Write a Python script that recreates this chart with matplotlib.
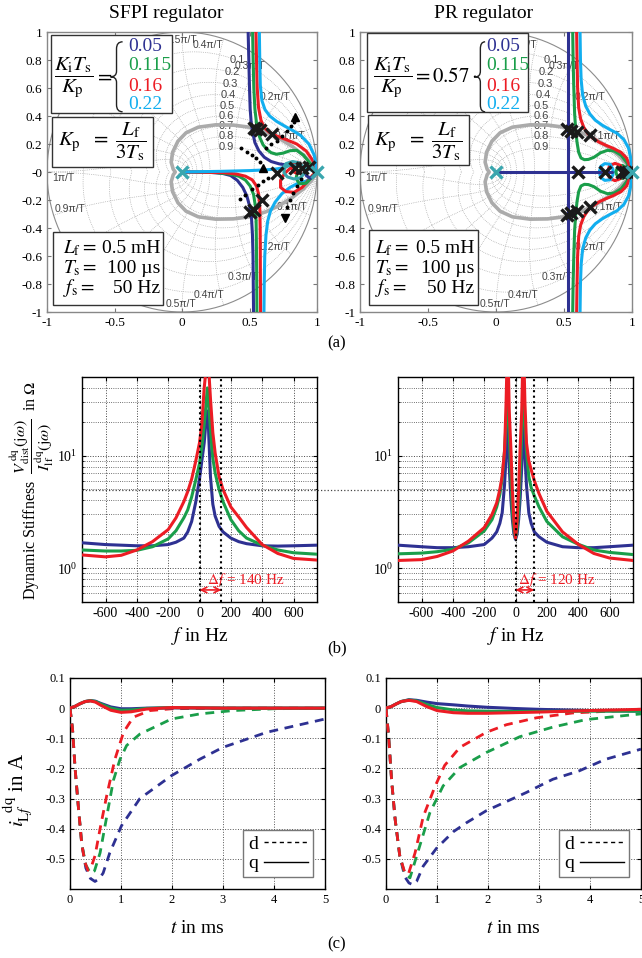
import numpy as np
import matplotlib
matplotlib.use('Agg')
from matplotlib import pyplot as plt
from matplotlib.lines import Line2D
from matplotlib.patches import Rectangle, PathPatch
from matplotlib.path import Path
from matplotlib.ticker import LogLocator, NullFormatter, LogFormatterMathtext, FormatStrFormatter

plt.rcParams['font.family'] = ['Liberation Serif', 'DejaVu Serif']
plt.rcParams['mathtext.fontset'] = 'stix'
plt.rcParams['axes.unicode_minus'] = False
plt.rcParams['xtick.direction'] = 'in'
plt.rcParams['ytick.direction'] = 'in'

NAVY = '#2E3192'
GREEN = '#1A9E4A'
RED = '#EC1C24'
CYAN = '#12AEEF'
GRAY = '#ABABAB'
TEAL = '#3AA6AE'
SANS = ['Liberation Sans', 'DejaVu Sans']

# ---------------- root locus data (z-plane) ----------------
gray_loop_upper = [(1.0, 0.0), (0.96, 0.06), (0.9, 0.12), (0.82, 0.18), (0.72, 0.24), (0.62, 0.285),
                   (0.5, 0.32), (0.38, 0.335), (0.25, 0.337), (0.12, 0.32), (0.03, 0.28), (-0.03, 0.22),
                   (-0.07, 0.14), (-0.08, 0.07), (-0.065, 0.02), (-0.05, 0.0)]

# SFPI regulator
sfpi_navy_up = [(0.49, 1.0), (0.495, 0.8), (0.5, 0.6), (0.505, 0.45), (0.512, 0.36), (0.522, 0.29),
                (0.54, 0.21), (0.57, 0.15), (0.61, 0.105), (0.66, 0.075), (0.72, 0.058), (0.78, 0.05),
                (0.84, 0.047), (0.9, 0.04), (0.95, 0.025), (1.0, 0.0)]
sfpi_green_up = [(0.523, 1.0), (0.527, 0.8), (0.532, 0.6), (0.54, 0.45), (0.553, 0.34), (0.575, 0.25),
                 (0.6, 0.195), (0.63, 0.16), (0.66, 0.138), (0.7, 0.127), (0.75, 0.135), (0.8, 0.152),
                 (0.85, 0.155), (0.9, 0.12), (0.95, 0.06), (1.0, 0.0)]
sfpi_red_up = [(0.548, 1.0), (0.552, 0.8), (0.557, 0.6), (0.567, 0.46), (0.585, 0.37), (0.61, 0.315),
               (0.645, 0.285), (0.7, 0.258), (0.78, 0.228), (0.85, 0.2), (0.92, 0.15), (0.97, 0.08), (1.0, 0.0)]
sfpi_cyan_up = [(0.573, 1.0), (0.576, 0.8), (0.58, 0.62), (0.592, 0.51), (0.615, 0.445), (0.65, 0.4),
                (0.7, 0.362), (0.76, 0.328), (0.82, 0.297), (0.88, 0.26), (0.94, 0.2), (0.98, 0.12), (1.0, 0.0)]

sfpi_navy_low = [(0.0, 0.0), (0.2, -0.002), (0.3, -0.01), (0.36, -0.025), (0.41, -0.06), (0.45, -0.11),
                 (0.48, -0.17), (0.5, -0.24), (0.515, -0.33), (0.522, -0.45), (0.526, -0.6),
                 (0.528, -0.8), (0.53, -1.0)]
sfpi_green_low = [(0.0, 0.0), (0.25, -0.004), (0.35, -0.014), (0.42, -0.03), (0.47, -0.058),
                  (0.505, -0.1), (0.53, -0.16), (0.543, -0.24), (0.549, -0.35), (0.551, -0.5),
                  (0.553, -0.7), (0.555, -1.0)]
sfpi_red_low = [(0.0, 0.0), (0.3, -0.004), (0.4, -0.014), (0.47, -0.03), (0.52, -0.056), (0.552, -0.1),
                (0.568, -0.16), (0.576, -0.25), (0.579, -0.4), (0.58, -0.6), (0.581, -0.8), (0.582, -1.0)]
sfpi_cyan_real = [(0.0, 0.0), (0.3, 0.005), (0.5, 0.01), (0.62, 0.015), (0.7, 0.022), (0.75, 0.03)]
sfpi_cyan_low = [(1.0, 0.0), (0.97, -0.035), (0.92, -0.065), (0.86, -0.08), (0.8, -0.11), (0.74, -0.155),
                 (0.69, -0.215), (0.655, -0.28), (0.635, -0.35), (0.622, -0.45), (0.613, -0.6),
                 (0.609, -0.8), (0.607, -1.0)]

sfpi_cyan_loop = [(0.75, 0.03), (0.77, 0.06), (0.82, 0.075), (0.87, 0.065), (0.905, 0.03), (0.905, -0.01),
                  (0.88, -0.04), (0.83, -0.05), (0.78, -0.035), (0.755, -0.005), (0.76, 0.03),
                  (0.8, 0.05), (0.88, 0.04), (0.94, 0.02), (1.0, 0.0)]
sfpi_red_loop = [(0.88, 0.055), (0.84, 0.05), (0.8, 0.025), (0.76, -0.01), (0.73, -0.06), (0.73, -0.11),
                 (0.77, -0.14), (0.83, -0.145), (0.89, -0.11), (0.94, -0.055), (0.97, -0.02), (1.0, 0.0)]
sfpi_red_ring = [(0.815, 0.03), (0.83, 0.065), (0.86, 0.07), (0.885, 0.045), (0.88, 0.005),
                 (0.85, -0.01), (0.82, 0.005), (0.815, 0.03)]
sfpi_green_loop = [(0.93, 0.045), (0.89, 0.03), (0.855, 0.0), (0.845, -0.045), (0.87, -0.085),
                   (0.92, -0.08), (0.96, -0.04), (1.0, 0.0)]
sfpi_navy_loop = [(0.96, 0.035), (0.925, 0.015), (0.92, -0.025), (0.95, -0.045), (0.98, -0.025), (1.0, 0.0)]

sfpi_crosses_x = [0.53, 0.545, 0.578, 0.665, 0.70, 0.84, 0.89, 0.94, 0.505, 0.535, 0.59]
sfpi_crosses_y = [0.315, 0.31, 0.30, 0.268, -0.01, 0.026, 0.03, 0.036, -0.285, -0.27, -0.2]

sfpi_dots_a = [(0.62, 0.17), (0.66, 0.2), (0.7, 0.225), (0.74, 0.255), (0.78, 0.29), (0.81, 0.33), (0.83, 0.36)]
sfpi_dots_b = [(0.44, 0.17), (0.48, 0.145), (0.52, 0.12), (0.55, 0.1), (0.575, 0.07)]
sfpi_dots_c = [(0.43, -0.19), (0.47, -0.165), (0.52, -0.12), (0.56, -0.09), (0.6, -0.065), (0.64, -0.045)]
sfpi_dots_d = [(0.88, -0.05), (0.85, -0.1), (0.82, -0.15), (0.8, -0.2), (0.78, -0.25)]
sfpi_arrows_up = [(0.837, 0.39), (0.6, 0.03)]
sfpi_arrows_down = [(0.765, -0.33)]

# PR regulator
pr_navy_v = [(0.53, 1.0), (0.53, -1.0)]
pr_navy_h = [(0.0, 0.0), (0.85, 0.0)]
pr_green_up = [(0.564, 1.0), (0.567, 0.8), (0.572, 0.6), (0.578, 0.42), (0.586, 0.3), (0.596, 0.21),
               (0.608, 0.14), (0.625, 0.1), (0.65, 0.088), (0.68, 0.09), (0.72, 0.105), (0.77, 0.138),
               (0.82, 0.155), (0.87, 0.15), (0.92, 0.12), (0.96, 0.07), (1.0, 0.0)]
pr_red_up = [(0.593, 1.0), (0.596, 0.8), (0.6, 0.6), (0.608, 0.46), (0.622, 0.38), (0.645, 0.32),
             (0.675, 0.275), (0.71, 0.243), (0.76, 0.212), (0.81, 0.19), (0.86, 0.17), (0.92, 0.14),
             (0.96, 0.1), (1.0, 0.0)]
pr_cyan_up = [(0.618, 1.0), (0.621, 0.8), (0.626, 0.66), (0.637, 0.55), (0.66, 0.47), (0.69, 0.415),
              (0.73, 0.37), (0.78, 0.335), (0.83, 0.307), (0.89, 0.277), (0.94, 0.232), (0.975, 0.17),
              (0.99, 0.1), (1.0, 0.0)]
pr_cyan_loop = [(0.76, 0.0), (0.77, 0.04), (0.8, 0.06), (0.84, 0.055), (0.86, 0.02), (0.86, -0.02),
                (0.84, -0.055), (0.8, -0.06), (0.77, -0.04), (0.76, 0.0)]
pr_red_loop = [(0.82, 0.0), (0.835, 0.045), (0.875, 0.062), (0.915, 0.047), (0.935, 0.0), (0.915, -0.047),
               (0.875, -0.062), (0.835, -0.045), (0.82, 0.0)]
pr_green_loop = [(0.88, 0.0), (0.895, 0.035), (0.93, 0.047), (0.96, 0.03), (0.975, 0.0), (0.96, -0.03),
                 (0.93, -0.047), (0.895, -0.035), (0.88, 0.0)]
pr_crosses_x = [0.525, 0.55, 0.593, 0.69, 0.525, 0.55, 0.593, 0.69, 0.605, 0.8, 0.93, 0.95, 0.97, 0.99]
pr_crosses_y = [0.305, 0.295, 0.285, 0.262, -0.305, -0.295, -0.275, -0.252, 0.0, 0.0, 0.0, 0.0, 0.0, 0.0]

open_loop_x = [0.0, 1.0]
open_loop_y = [0.0, 0.0]

ki_values = ['0.05', '0.115', '0.16', '0.22']
ki_colors = [NAVY, GREEN, RED, CYAN]

zeta_labels = ['0.1', '0.2', '0.3', '0.4', '0.5', '0.6', '0.7', '0.8', '0.9']
zeta_label_x = [0.407, 0.37, 0.36, 0.345, 0.335, 0.33, 0.33, 0.33, 0.33]
zeta_label_y = [0.80, 0.714, 0.63, 0.548, 0.47, 0.398, 0.326, 0.255, 0.18]
wn_labels = ['0.3\u03c0/T', '0.4\u03c0/T', '0.5\u03c0/T', '0.2\u03c0/T', '0.1\u03c0/T', '1\u03c0/T',
             '0.9\u03c0/T', '0.5\u03c0/T', '0.4\u03c0/T', '0.3\u03c0/T', '0.2\u03c0/T', '0.1\u03c0/T']
wn_label_x = [0.5, 0.19, 0.0, 0.69, 0.80, -0.88, -0.83, -0.01, 0.2, 0.45, 0.69, 0.815]
wn_label_y = [0.755, 0.905, 0.94, 0.536, 0.26, -0.045, -0.265, -0.94, -0.88, -0.75, -0.536, -0.25]

# ---------------- dynamic stiffness data ----------------
f_sfpi = [-750, -600, -500, -400, -300, -200, -150, -100, -75, -50, -25, 0, 15, 30, 40, 45, 50, 55, 60,
          70, 85, 100, 125, 150, 200, 250, 300, 400, 500, 600, 750]
stiff_sfpi_navy = [1.68, 1.62, 1.6, 1.58, 1.58, 1.62, 1.7, 1.85, 2.1, 2.6, 3.8, 6.2, 9.0, 13, 19, 22, 25,
                   22, 14, 6.5, 3.7, 2.9, 2.35, 2.1, 1.85, 1.72, 1.65, 1.58, 1.57, 1.58, 1.6]
stiff_sfpi_green = [1.45, 1.42, 1.42, 1.44, 1.55, 1.82, 2.15, 2.8, 3.3, 4.3, 6.0, 8.5, 12, 19, 27, 33, 40,
                    35, 27, 17, 9.5, 7.0, 5.0, 3.9, 2.7, 2.15, 1.85, 1.6, 1.45, 1.37, 1.33]
stiff_sfpi_red = [1.31, 1.26, 1.3, 1.45, 1.72, 2.2, 2.8, 3.9, 4.8, 6.2, 8.8, 13, 19, 40, 55, 65, 80,
                  70, 55, 32, 16, 10.5, 6.5, 5.0, 3.5, 2.85, 2.3, 1.62, 1.35, 1.22, 1.18]

f_pr = [-750, -600, -500, -400, -300, -200, -150, -120, -100, -85, -70, -60, -55, -50, -45, -40, -30, -20,
        -10, 0, 10, 20, 30, 40, 45, 50, 55, 60, 70, 85, 100, 120, 150, 200, 300, 400, 500, 600, 750]
stiff_pr_navy = [1.6, 1.55, 1.52, 1.52, 1.55, 1.62, 1.85, 2.1, 2.5, 3.1, 5.5, 10, 16, 25, 15, 8, 4.2, 2.7,
                 2.0, 1.8, 2.0, 2.7, 4.2, 8, 15, 25, 16, 10, 5.5, 3.1, 2.5, 2.1, 1.9, 1.7, 1.55, 1.52,
                 1.52, 1.55, 1.6]
stiff_pr_green = [1.34, 1.36, 1.4, 1.47, 1.68, 2.14, 2.7, 3.5, 4.5, 6.3, 11, 20, 28, 40, 28, 16, 7.0, 3.3,
                  2.2, 1.85, 2.2, 3.3, 7.0, 16, 28, 40, 28, 20, 11, 6.5, 5.2, 4.4, 3.5, 2.6, 1.9, 1.63,
                  1.45, 1.38, 1.32]
stiff_pr_red = [1.17, 1.19, 1.27, 1.42, 1.74, 2.29, 3.0, 3.8, 5.0, 6.6, 11, 30, 60, 90, 55, 25, 12, 5.0,
                2.6, 1.85, 2.6, 5.0, 12, 25, 55, 90, 60, 30, 13, 9, 7.5, 6.0, 4.6, 3.2, 2.1, 1.63, 1.35,
                1.23, 1.17]

bandwidth_sfpi = 140
bandwidth_pr = 120
stiff_ref = 5

# ---------------- transient response data (t in ms, i in A) ----------------
sfpi_red_d_t = [0, 0.05, 0.1, 0.16, 0.23, 0.29, 0.35, 0.41, 0.49, 0.59, 0.72, 0.88, 1.05, 1.24, 1.57, 2.0, 3, 5]
sfpi_red_d = [0, -0.07, -0.2, -0.32, -0.45, -0.51, -0.538, -0.53, -0.49, -0.4, -0.29, -0.17, -0.08, -0.03,
              -0.008, -0.002, 0, 0]
sfpi_green_d_t = [0, 0.05, 0.1, 0.16, 0.23, 0.31, 0.4, 0.48, 0.59, 0.72, 0.85, 0.98, 1.11, 1.37, 1.99, 2.55,
                  3.2, 4, 5]
sfpi_green_d = [0, -0.07, -0.2, -0.32, -0.45, -0.52, -0.548, -0.54, -0.48, -0.36, -0.24, -0.17, -0.124,
                -0.086, -0.036, -0.019, -0.008, -0.002, 0]
sfpi_navy_d_t = [0, 0.05, 0.1, 0.16, 0.23, 0.31, 0.4, 0.49, 0.58, 0.65, 0.78, 1.01, 1.37, 1.99, 2.55, 3.0,
                 3.86, 5]
sfpi_navy_d = [0, -0.07, -0.2, -0.32, -0.45, -0.53, -0.565, -0.575, -0.565, -0.547, -0.48, -0.39, -0.3,
               -0.224, -0.169, -0.13, -0.08, -0.036]
sfpi_q_t = [0, 0.1, 0.2, 0.3, 0.4, 0.5, 0.6, 0.8, 1.0, 1.2, 1.5, 2, 3, 5]
sfpi_navy_q = [0, 0.006, 0.015, 0.022, 0.025, 0.023, 0.016, 0.004, -0.002, -0.002, 0.0, 0.001, 0, 0]
sfpi_green_q = [0, 0.006, 0.015, 0.022, 0.025, 0.022, 0.014, 0.0, -0.007, -0.006, -0.001, 0.002, 0, 0]
sfpi_red_q = [0, 0.006, 0.015, 0.022, 0.024, 0.02, 0.01, -0.007, -0.014, -0.012, -0.003, 0.002, 0, 0]

pr_red_d_t = [0, 0.05, 0.11, 0.18, 0.27, 0.37, 0.44, 0.57, 0.73, 0.96, 1.15, 1.45, 1.97, 2.36, 2.95, 3.66, 5]
pr_red_d = [0, -0.09, -0.24, -0.37, -0.49, -0.547, -0.55, -0.48, -0.36, -0.26, -0.19, -0.13, -0.08,
            -0.055, -0.032, -0.016, -0.005]
pr_green_d_t = [0, 0.05, 0.11, 0.18, 0.27, 0.37, 0.47, 0.66, 0.86, 1.12, 1.45, 1.97, 2.62, 3.27, 3.92, 5]
pr_green_d = [0, -0.09, -0.24, -0.37, -0.49, -0.55, -0.563, -0.458, -0.347, -0.258, -0.197, -0.147,
              -0.095, -0.063, -0.038, -0.019]
pr_navy_d_t = [0, 0.05, 0.11, 0.18, 0.27, 0.37, 0.45, 0.53, 0.6, 0.73, 0.99, 1.32, 1.58, 1.97, 2.36, 2.75,
               3.27, 3.79, 4.3, 5]
pr_navy_d = [0, -0.09, -0.24, -0.37, -0.49, -0.56, -0.58, -0.586, -0.575, -0.524, -0.465, -0.41, -0.38,
             -0.34, -0.31, -0.28, -0.236, -0.208, -0.17, -0.136]
pr_q_t = [0, 0.1, 0.2, 0.3, 0.45, 0.6, 0.8, 1.0, 1.32, 1.6, 1.97, 2.5, 3, 4, 5]
pr_navy_q = [0, 0.005, 0.014, 0.022, 0.028, 0.026, 0.02, 0.015, 0.011, 0.007, 0.003, -0.001, -0.004,
             -0.008, -0.01]
pr_green_q = [0, 0.005, 0.014, 0.022, 0.027, 0.024, 0.012, 0.002, -0.006, -0.009, -0.01, -0.011, -0.011,
              -0.01, -0.01]
pr_red_q = [0, 0.005, 0.014, 0.022, 0.026, 0.022, 0.005, -0.008, -0.015, -0.017, -0.017, -0.015, -0.013,
            -0.008, -0.004]

W, H = 642, 958
fig = plt.figure(figsize=(W / 100, H / 100), dpi=100)


def px_axes(left, top, right, bottom):
    return fig.add_axes([left / W, 1 - bottom / H, (right - left) / W, (bottom - top) / H])


def mirror(pts):
    return [(x, -y) for x, y in pts]


def draw_branch(ax, pts, color, lw=2.2, z=3):
    xs, ys = zip(*pts)
    ax.plot(xs, ys, color=color, lw=lw, solid_joinstyle='round', solid_capstyle='round', zorder=z)


def draw_zgrid(ax):
    # constant damping and constant natural frequency curves, T = 1
    for zeta in np.arange(0.1, 0.95, 0.1):
        w = np.linspace(0, np.pi / np.sqrt(1 - zeta ** 2), 200)
        z = np.exp(-zeta * w + 1j * w * np.sqrt(1 - zeta ** 2))
        for s in (1, -1):
            ax.plot(z.real, s * z.imag, ls=':', color='#9a9a9a', lw=0.5, zorder=1)
    zz = np.linspace(0, 1, 120)
    for k in range(1, 11):
        wn = k * np.pi / 10
        z = np.exp(wn * (-zz + 1j * np.sqrt(1 - zz ** 2)))
        for s in (1, -1):
            ax.plot(z.real, s * z.imag, ls=':', color='#9a9a9a', lw=0.5, zorder=1)
    th = np.linspace(0, 2 * np.pi, 400)
    ax.plot(np.cos(th), np.sin(th), color='#8c8c8c', lw=0.8, zorder=1)
    for lab, x, y in zip(zeta_labels, zeta_label_x, zeta_label_y):
        ax.text(x, y, lab, family=SANS, fontsize=8, color='#444444', ha='center', va='center', zorder=2)
    for lab, x, y in zip(wn_labels, wn_label_x, wn_label_y):
        ax.text(x, y, lab, family=SANS, fontsize=7.5, color='#444444', ha='center', va='center', zorder=2)


def draw_brace(ax, x, y0, y1, w):
    ym = (y0 + y1) / 2
    h = y1 - y0
    verts = [(x + w, y1), (x + w / 2, y1), (x + w / 2, y1 - 0.1 * h),
             (x + w / 2, ym + 0.08 * h),
             (x + w / 2, ym), (x, ym),
             (x + w / 2, ym), (x + w / 2, ym - 0.08 * h),
             (x + w / 2, y0 + 0.1 * h),
             (x + w / 2, y0), (x + w, y0)]
    codes = [Path.MOVETO, Path.CURVE3, Path.CURVE3, Path.LINETO, Path.CURVE3, Path.CURVE3,
             Path.CURVE3, Path.CURVE3, Path.LINETO, Path.CURVE3, Path.CURVE3]
    ax.add_patch(PathPatch(Path(verts, codes), fill=False, lw=1.0, color='#222222', zorder=7))


def text_box(ax, x0, x1, y0, y1):
    ax.add_patch(Rectangle((x0, y0), x1 - x0, y1 - y0, facecolor='white', edgecolor='#333333',
                           lw=1.0, zorder=5))


def setup_locus(ax):
    ax.set_xlim(-1, 1)
    ax.set_ylim(-1, 1)
    ax.set_xticks([-1, -0.5, 0, 0.5, 1])
    ax.set_yticks(np.round(np.arange(-1, 1.01, 0.2), 1))
    ax.xaxis.set_major_formatter(FormatStrFormatter('%g'))
    ax.yaxis.set_major_formatter(FormatStrFormatter('%g'))
    ax.tick_params(labelsize=9.5, length=3, top=True, right=True, color='#777777')
    for sp in ax.spines.values():
        sp.set_color('#888888')
        sp.set_linewidth(1.0)


def param_boxes(ax, b1, b2, b3, frac_x, eq_text, eq_x, brace_x, brace_w, num_x, kp_x, val_x0, val_x1):
    text_box(ax, *b1)
    text_box(ax, *b2)
    text_box(ax, *b3)
    ax.text(frac_x, 0.675, r'$\dfrac{K_\mathrm{i}T_\mathrm{s}}{K_\mathrm{p}}$', fontsize=15,
            ha='center', va='center', zorder=7)
    ax.text(eq_x, 0.675, eq_text, fontsize=15, ha='left', va='center', zorder=7)
    draw_brace(ax, brace_x, 0.43, 0.93, brace_w)
    for lab, col, y in zip(ki_values, ki_colors, [0.893, 0.764, 0.614, 0.479]):
        ax.text(num_x, y, lab, color=col, fontsize=14, ha='left', va='center', zorder=7)
    ax.text(kp_x, 0.214, r'$K_\mathrm{p}\ \ =\ \dfrac{L_\mathrm{f}}{3T_\mathrm{s}}$', fontsize=15,
            ha='center', va='center', zorder=7)
    rows = [(r'$L_\mathrm{f}=$', '0.5 mH'), (r'$T_\mathrm{s}=$', '100 \u00b5s'), (r'$f_\mathrm{s}=$', '50 Hz')]
    for (sym, val), y in zip(rows, [-0.543, -0.686, -0.829]):
        ax.text(val_x0, y, sym, fontsize=14, ha='left', va='center', zorder=7)
        ax.text(val_x1, y, val, fontsize=14, ha='right', va='center', zorder=7)


# ---------------- (a) root loci ----------------
ax_a1 = px_axes(47, 32, 317, 312)
ax_a2 = px_axes(360, 32, 632, 312)
gray_loop = gray_loop_upper + mirror(gray_loop_upper[::-1])

for ax in (ax_a1, ax_a2):
    setup_locus(ax)
    draw_zgrid(ax)
    draw_branch(ax, gray_loop, GRAY, lw=2.6, z=2)

for pts, col in [(sfpi_navy_up, NAVY), (sfpi_green_up, GREEN), (sfpi_red_up, RED), (sfpi_cyan_up, CYAN),
                 (sfpi_navy_low, NAVY), (sfpi_green_low, GREEN), (sfpi_red_low, RED),
                 (sfpi_cyan_real, CYAN), (sfpi_cyan_low, CYAN), (sfpi_red_loop, RED),
                 (sfpi_green_loop, GREEN), (sfpi_navy_loop, NAVY), (sfpi_red_ring, RED),
                 (sfpi_cyan_loop, TEAL)]:
    draw_branch(ax_a1, pts, col)
for dots in (sfpi_dots_a, sfpi_dots_b, sfpi_dots_c, sfpi_dots_d):
    xs, ys = zip(*dots)
    ax_a1.plot(xs, ys, ls='none', marker='o', ms=1.8, color='k', zorder=4)
xs, ys = zip(*sfpi_arrows_up)
ax_a1.plot(xs, ys, ls='none', marker='^', ms=6, color='k', zorder=4)
xs, ys = zip(*sfpi_arrows_down)
ax_a1.plot(xs, ys, ls='none', marker='v', ms=6, color='k', zorder=4)
ax_a1.plot(sfpi_crosses_x, sfpi_crosses_y, ls='none', marker='x', ms=8, mew=2.4, color='#1a1a1a', zorder=6)

for pts, col in [(pr_green_up, GREEN), (mirror(pr_green_up), GREEN), (pr_red_up, RED),
                 (mirror(pr_red_up), RED), (pr_cyan_up, CYAN), (mirror(pr_cyan_up), CYAN),
                 (pr_green_loop, GREEN), (pr_red_loop, RED), (pr_cyan_loop, CYAN),
                 (pr_navy_v, NAVY), (pr_navy_h, NAVY)]:
    draw_branch(ax_a2, pts, col)
ax_a2.plot(pr_crosses_x, pr_crosses_y, ls='none', marker='x', ms=8, mew=2.4, color='#1a1a1a', zorder=6)

for ax in (ax_a1, ax_a2):
    ax.plot(open_loop_x, open_loop_y, ls='none', marker='x', ms=9, mew=2.4, color=TEAL, zorder=6,
            clip_on=False)

param_boxes(ax_a1, (-0.973, -0.077, 0.419, 0.979), (-0.965, -0.213, 0.038, 0.39),
            (-0.958, -0.138, -0.95, -0.426), frac_x=-0.80, eq_text='$=$', eq_x=-0.65,
            brace_x=-0.53, brace_w=0.09, num_x=-0.40, kp_x=-0.59, val_x0=-0.88, val_x1=-0.16)
param_boxes(ax_a2, (-0.95, 0.238, 0.43, 0.99), (-0.943, -0.196, 0.05, 0.407),
            (-0.931, -0.13, -0.95, -0.414), frac_x=-0.76, eq_text=r'$=0.57\cdot$', eq_x=-0.62,
            brace_x=-0.15, brace_w=0.07, num_x=-0.075, kp_x=-0.57, val_x0=-0.89, val_x1=-0.16)

fig.text(166 / W, 1 - 13 / H, 'SFPI regulator', fontsize=14, ha='center', va='center')
fig.text(484 / W, 1 - 13 / H, 'PR regulator', fontsize=14, ha='center', va='center')

# ---------------- (b) dynamic stiffness ----------------
ax_b1 = px_axes(82, 377, 317, 602)
ax_b2 = px_axes(398, 377, 633, 602)
stiff_sets = [(ax_b1, f_sfpi, [stiff_sfpi_navy, stiff_sfpi_green, stiff_sfpi_red], bandwidth_sfpi, 45),
              (ax_b2, f_pr, [stiff_pr_navy, stiff_pr_green, stiff_pr_red], bandwidth_pr, 13)]
for ax, f, curves, bw, tx in stiff_sets:
    for vals, col in zip(curves, [NAVY, GREEN, RED]):
        ax.plot(f, vals, color=col, lw=2.2, zorder=3)
    ax.set_yscale('log')
    ax.set_xlim(-750, 750)
    ax.set_ylim(0.5, 50)
    ax.set_xticks([-600, -400, -200, 0, 200, 400, 600])
    ax.yaxis.set_major_locator(LogLocator(base=10, numticks=5))
    ax.yaxis.set_minor_locator(LogLocator(base=10, subs=np.arange(2, 10), numticks=20))
    ax.yaxis.set_major_formatter(LogFormatterMathtext())
    ax.yaxis.set_minor_formatter(NullFormatter())
    ax.grid(True, which='major', ls=':', color='#444444', lw=0.7)
    ax.grid(True, which='minor', axis='y', ls=':', color='#444444', lw=0.6)
    ax.tick_params(labelsize=10, top=True, right=True, length=3)
    ax.tick_params(which='minor', top=True, right=True, length=1.5)
    for sp in ax.spines.values():
        sp.set_linewidth(1.0)
    ax.axvline(0, ls=':', color='k', lw=1.5, zorder=4)
    ax.axvline(bw, ls=':', color='k', lw=1.5, zorder=4)
    ax.annotate('', xy=(0, 0.64), xytext=(bw, 0.64),
                arrowprops=dict(arrowstyle='<->', color=RED, lw=1.2, shrinkA=0, shrinkB=0), zorder=5)
    ax.text(tx, 0.78, r'$\Delta f$ = %d Hz' % bw, color=RED, fontsize=11, ha='left', va='center',
            zorder=5)
    ax.set_xlabel(r'$f$ in Hz', fontsize=14, labelpad=4)

fig.canvas.draw()
inv = fig.transFigure.inverted()
x_left = inv.transform(ax_b1.transAxes.transform((0, 0)))[0]
x_right = inv.transform(ax_b2.transAxes.transform((1, 0)))[0]
y_ref = inv.transform(ax_b1.transData.transform((0, stiff_ref)))[1]
fig.add_artist(Line2D([x_left, x_right], [y_ref, y_ref], ls=':', color='#444444', lw=0.9))

fig.text(32 / W, 1 - 490 / H,
         r'Dynamic Stiffness  $\dfrac{V_\mathrm{dist}^{\,\mathrm{dq}}(\mathrm{j}\omega)}'
         r'{I_\mathrm{lf}^{\,\mathrm{dq}}(\mathrm{j}\omega)}$  in $\Omega$',
         rotation=90, fontsize=11.5, ha='center', va='center')

# ---------------- (c) transient response ----------------
ax_c1 = px_axes(70, 678, 325, 889)
ax_c2 = px_axes(386, 678, 641, 889)
trans_sets = [(ax_c1, [(sfpi_navy_d_t, sfpi_navy_d, NAVY), (sfpi_green_d_t, sfpi_green_d, GREEN),
                       (sfpi_red_d_t, sfpi_red_d, RED)],
               sfpi_q_t, [sfpi_navy_q, sfpi_green_q, sfpi_red_q]),
              (ax_c2, [(pr_navy_d_t, pr_navy_d, NAVY), (pr_green_d_t, pr_green_d, GREEN),
                       (pr_red_d_t, pr_red_d, RED)],
               pr_q_t, [pr_navy_q, pr_green_q, pr_red_q])]
for ax, dset, qt, qset in trans_sets:
    for t, v, col in dset:
        ax.plot(t, v, color=col, lw=2.0, ls=(0, (3.2, 2.4)), zorder=3)
    for v, col in zip(qset, [NAVY, GREEN, RED]):
        ax.plot(qt, v, color=col, lw=2.2, zorder=3)
    ax.set_xlim(0, 5)
    ax.set_ylim(-0.6, 0.1)
    ax.set_xticks([0, 1, 2, 3, 4, 5])
    ax.set_yticks([-0.5, -0.4, -0.3, -0.2, -0.1, 0, 0.1])
    ax.yaxis.set_major_formatter(FormatStrFormatter('%g'))
    ax.grid(True, ls=':', color='#555555', lw=0.7)
    ax.tick_params(labelsize=9, top=True, right=True, length=3)
    for sp in ax.spines.values():
        sp.set_linewidth(1.0)
    handles = [Line2D([], [], color='k', lw=1.0, ls=(0, (3, 2.5))), Line2D([], [], color='k', lw=1.0)]
    leg = ax.legend(handles, ['d', 'q'], loc='lower right', markerfirst=False, fontsize=14,
                    handlelength=2.3, handletextpad=0.3, borderpad=0.25, labelspacing=0.1,
                    fancybox=False, framealpha=1, borderaxespad=0.6)
    leg.get_frame().set_edgecolor('#777777')
    ax.set_xlabel(r'$t$ in ms', fontsize=14, labelpad=10)

fig.text(18 / W, 1 - 790 / H, r'$i_{\mathrm{L}f}^{\ \ \mathrm{dq}}$ in A', rotation=90, fontsize=15,
         ha='center', va='center')

for lab, py in [('(a)', 343), ('(b)', 648), ('(c)', 944)]:
    fig.text(337 / W, 1 - py / H, lab, fontsize=12, ha='center', va='center')

fig.savefig('out.png', dpi=100)
